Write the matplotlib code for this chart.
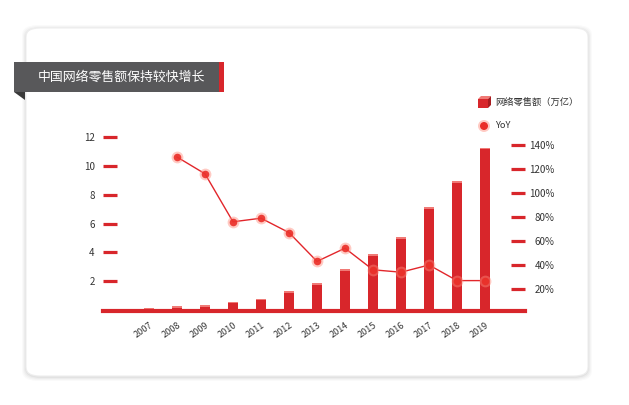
import numpy as np
import matplotlib
matplotlib.use("Agg")
import matplotlib.pyplot as plt
from matplotlib.patches import FancyBboxPatch, Rectangle, Polygon, Ellipse

plt.rcParams['font.family'] = ['Noto Sans CJK SC', 'DejaVu Sans']

years = ['2007', '2008', '2009', '2010', '2011', '2012', '2013',
         '2014', '2015', '2016', '2017', '2018', '2019']
sales = [0.05, 0.16, 0.24, 0.48, 0.68, 1.2, 1.76, 2.73, 3.77, 4.95, 7.03, 8.84, 11.18]
yoy = [None, 130, 116, 76, 79, 67, 43, 54, 36, 34, 40, 27, 27]

title = '中国网络零售额保持较快增长'
legend_bar = '网络零售额（万亿）'
legend_line = 'YoY'

RED = '#d8262b'
W, H = 629, 405

fig = plt.figure(figsize=(W / 100, H / 100), dpi=100)
fig.patch.set_facecolor('white')

def px(x, y, w, h):
    # pixel box (top-left origin) -> figure fraction
    return [x / W, 1 - (y + h) / H, w / W, h / H]

def add(p, z):
    p.set_zorder(z)
    fig.add_artist(p)

# card with soft shadow
for i, a in enumerate([0.02, 0.025, 0.03, 0.04]):
    d = 4 - i
    b = px(26 - d, 28 - d + 1, 562 + 2 * d, 348 + 2 * d)
    add(FancyBboxPatch((b[0], b[1]), b[2], b[3],
                       boxstyle='round,pad=0,rounding_size=0.025',
                       transform=fig.transFigure, fc='#000000', ec='none', alpha=a), -10)
b = px(26, 28, 562, 348)
add(FancyBboxPatch((b[0], b[1]), b[2], b[3],
                   boxstyle='round,pad=0,rounding_size=0.022',
                   transform=fig.transFigure, fc='white', ec='#eeeeee', lw=0.8), -9)

# title banner
b = px(14, 62, 206, 30)
add(Rectangle((b[0], b[1]), b[2], b[3], transform=fig.transFigure,
              fc='#58585a', ec='none'), -8)
b = px(219, 62, 5, 30)
add(Rectangle((b[0], b[1]), b[2], b[3], transform=fig.transFigure,
              fc=RED, ec='none'), -8)
add(Polygon([(14 / W, 1 - 92 / H), (25 / W, 1 - 92 / H), (25 / W, 1 - 100 / H)],
            transform=fig.transFigure, fc='#3a3a3a', ec='none'), -8)
fig.text(121 / W, 1 - 77 / H, title, color='white', fontsize=9.3,
         ha='center', va='center')

# main axes: x 103..525 px, y 130..311 px
ax = fig.add_axes(px(103, 130, 422, 181))
ax.set_facecolor('none')
x = np.arange(len(years))
ax.set_xlim((103 - 149) / 28, (525 - 149) / 28)
ax.set_ylim((310 - 311) / 14.4, (310 - 130) / 14.4)

bw = 0.39
ax.bar(x, sales, width=bw, color=RED, zorder=3)
# lighter top cap for the 3d look
cap = 1.5 / 14.4
ax.bar(x, [cap] * len(x), bottom=sales, width=bw, color='#f07a76', zorder=3)

ax.set_yticks([2, 4, 6, 8, 10, 12])
ax.tick_params(axis='y', direction='in', length=10, width=2.3, color=RED,
               labelsize=7, labelcolor='#333333', pad=6)
ax.set_xticks(x)
ax.set_xticklabels(years, rotation=35, ha='right', rotation_mode='anchor')
ax.tick_params(axis='x', length=0, labelsize=6.5, labelcolor='#333333', pad=7)
for s in ['top', 'left', 'right']:
    ax.spines[s].set_visible(False)
ax.spines['bottom'].set_color(RED)
ax.spines['bottom'].set_linewidth(3)
ax.spines['bottom'].set_zorder(4)

ax2 = ax.twinx()
ax2.set_ylim((313 - 311) / 1.2, (313 - 130) / 1.2)
xs = [i for i, v in enumerate(yoy) if v is not None]
vs = [v for v in yoy if v is not None]
ax2.plot(xs, vs, color='#e2262b', lw=1.0, zorder=2)
ax2.set_yticks([20, 40, 60, 80, 100, 120, 140])
ax2.set_yticklabels([f'{v}%' for v in [20, 40, 60, 80, 100, 120, 140]], ha='right')
ax2.tick_params(axis='y', direction='in', length=10, width=2.3, color=RED,
                labelsize=7, labelcolor='#333333', pad=21)
for s in ['top', 'left', 'right', 'bottom']:
    ax2.spines[s].set_visible(False)
ax2.set_zorder(1)
ax.set_zorder(2)
ax.patch.set_visible(False)

# markers drawn in front of the bars
ax3 = ax.twinx()
ax3.set_ylim(ax2.get_ylim())
ax3.set_zorder(3)
ax3.axis('off')
ax3.scatter(xs, vs, s=72, color='#ff8a7a', alpha=0.45, lw=0)
ax3.scatter(xs, vs, s=30, color='#ea2e28', lw=0, alpha=0.9)

# legend
add(Polygon([(478 / W, 1 - 99 / H), (481 / W, 1 - 96 / H),
             (491 / W, 1 - 96 / H), (488 / W, 1 - 99 / H)],
            transform=fig.transFigure, fc='#f07a76', ec='none'), 5)
b = px(478, 99, 10, 9)
add(Rectangle((b[0], b[1]), b[2], b[3], transform=fig.transFigure,
              fc=RED, ec='none'), 5)
add(Polygon([(488 / W, 1 - 99 / H), (491 / W, 1 - 96 / H),
             (491 / W, 1 - 105 / H), (488 / W, 1 - 108 / H)],
            transform=fig.transFigure, fc='#a81c20', ec='none'), 5)
fig.text(495 / W, 1 - 103 / H, legend_bar, fontsize=6.7, color='#333333', va='center')
add(Ellipse((484 / W, 1 - 126 / H), 12 / W, 12 / H, transform=fig.transFigure,
            fc='#ff8a7a', alpha=0.45, ec='none'), 5)
add(Ellipse((484 / W, 1 - 126 / H), 8 / W, 8 / H, transform=fig.transFigure,
            fc='#ea2e28', ec='none'), 6)
fig.text(495 / W, 1 - 126 / H, legend_line, fontsize=6.7, color='#333333', va='center')

fig.savefig('out.png', dpi=100)
